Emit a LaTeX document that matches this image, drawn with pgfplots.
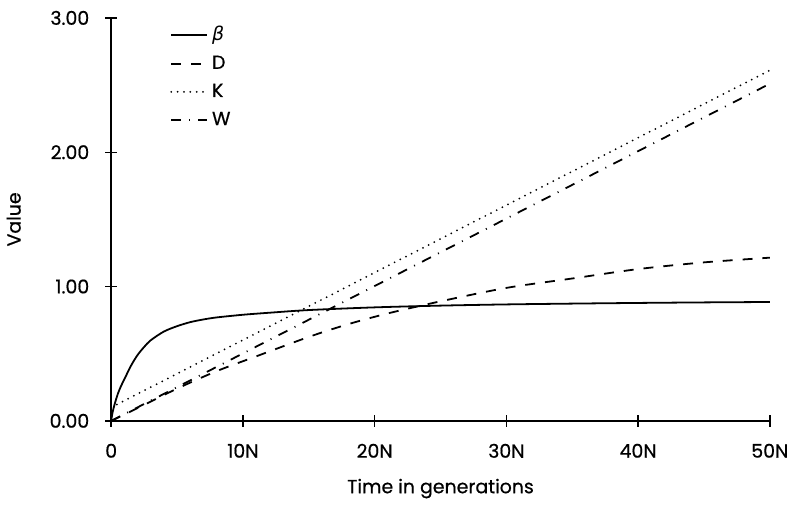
\documentclass[border=0pt]{standalone}
\usepackage{fontspec}
\setmainfont{Poppins}[FakeBold=0.6]
\newfontfamily\grk{DejaVu Sans}
\usepackage{pgfplots}
\pgfplotsset{compat=1.18}

\begin{document}
\begin{tikzpicture}
\begin{axis}[
    scale only axis,
    width=331pt, height=202.5pt,
    xmin=0, xmax=50, ymin=0, ymax=3,
    axis lines=left,
    axis line style={-, line width=0.7pt},
    tick align=center,
    major tick length=6pt,
    tick style={line width=0.7pt, black},
    xtick={0,10,20,30,40,50},
    xticklabels={0,10N,20N,30N,40N,50N},
    ytick={0,1,2,3},
    yticklabel={\pgfmathprintnumber[fixed,fixed zerofill,precision=2]{\tick}},
    /pgf/number format/assume math mode=true,
    ticklabel style={font=\fontsize{9.5}{11}\selectfont},
    xticklabel style={yshift=-5pt},
    yticklabel style={xshift=-4.5pt},
    xlabel={Time in generations},
    ylabel={Value},
    label style={font=\fontsize{9.5}{11}\selectfont},
    xlabel style={at={(axis description cs:0.5,-0.168)}, anchor=center},
    ylabel style={at={(axis description cs:-0.148,0.5)}, anchor=center},
    legend style={draw=none, fill=none, at={(0.08,1.0)}, anchor=north west,
        font=\fontsize{9.5}{11}\selectfont, row sep=2pt},
    legend cell align=left,
    legend image code/.code={\draw[#1] (0pt,0pt) -- (18pt,0pt);},
    clip=false,
]
\addplot[black, line width=0.9pt, smooth] coordinates {
  (0,0) (0.1,0.06) (0.25,0.12) (0.5,0.2) (0.75,0.26) (1,0.31) (1.5,0.41)
  (2,0.49) (2.5,0.55) (3,0.6) (4,0.665) (5,0.705) (6,0.735) (7,0.755)
  (8,0.77) (10,0.79) (12,0.805) (15,0.825) (20,0.845) (25,0.858)
  (30,0.867) (35,0.873) (40,0.878) (45,0.882) (50,0.885)
};
\addlegendentry{{\grk\itshape β}}
\addplot[black, line width=0.9pt, smooth, dash pattern=on 5pt off 5pt] coordinates {
  (0,0) (2,0.095) (5,0.24) (8,0.37) (11,0.48) (15,0.625) (18,0.72)
  (21,0.80) (25,0.89) (30,0.99) (35,1.06) (40,1.13) (45,1.18) (50,1.215)
};
\addlegendentry{D}
\addplot[black, line width=1pt, line cap=round, dash pattern=on 0pt off 3.2pt] coordinates {
  (0,0.1) (50,2.61)
};
\addlegendentry{K}
\addplot[black, line width=0.9pt, dash pattern=on 5pt off 4pt on 0.5pt off 4pt] coordinates {
  (0,0) (50,2.51)
};
\addlegendentry{W}
\path (rel axis cs:0,1) ++(0pt,9pt) coordinate (topspace);
\end{axis}
\end{tikzpicture}
\end{document}
